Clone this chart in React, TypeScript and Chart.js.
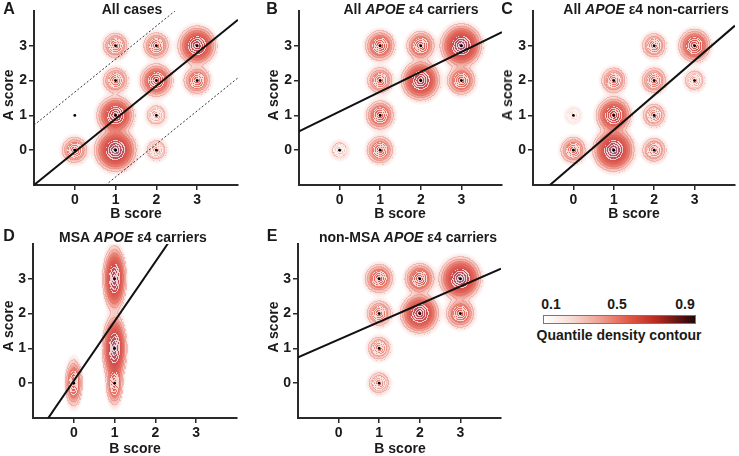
import React, { useEffect, useRef } from "react";
import { Chart, registerables } from "chart.js";
Chart.register(...registerables);

const FONT = "'Liberation Sans', Arial, Helvetica, sans-serif";

const AXIS_MIN = -1;
const AXIS_MAX = 4;
const TICK_VALUES = [0, 1, 2, 3];

// Panel A: All cases
const A_BSCORE = [0, 0, 1, 1, 1, 1, 2, 2, 2, 2, 3, 3];
const A_ASCORE = [0, 1, 0, 1, 2, 3, 0, 1, 2, 3, 2, 3];
const A_DENSITY = [0.22, 0.005, 1.0, 0.7, 0.2, 0.2, 0.1, 0.1, 0.45, 0.22, 0.25, 0.75];
const A_FIT = [0.95, -0.05];
const A_BAND = [1.72, -1.67];

// Panel B: All APOE e4 carriers
const B_BSCORE = [0, 1, 1, 1, 1, 2, 2, 3, 3];
const B_ASCORE = [0, 0, 1, 2, 3, 2, 3, 2, 3];
const B_DENSITY = [0.06, 0.25, 0.3, 0.22, 0.35, 0.8, 0.3, 0.3, 1.0];
const B_FIT = [0.57, 1.11];

// Panel C: All APOE e4 non-carriers
const C_BSCORE = [0, 0, 1, 1, 1, 2, 2, 2, 2, 3, 3];
const C_ASCORE = [0, 1, 0, 1, 2, 0, 1, 2, 3, 2, 3];
const C_DENSITY = [0.22, 0.04, 1.0, 0.6, 0.2, 0.17, 0.15, 0.2, 0.18, 0.1, 0.45];
const C_FIT = [1.0, -0.42];

// Panel D: MSA APOE e4 carriers
const D_BSCORE = [0, 1, 1, 1];
const D_ASCORE = [0, 0, 1, 3];
const D_DENSITY = [0.33, 0.3, 1.0, 0.9];
const D_FIT = [1.71, 0.07];

// Panel E: non-MSA APOE e4 carriers
const E_BSCORE = [1, 1, 1, 1, 2, 2, 3, 3];
const E_ASCORE = [0, 1, 2, 3, 2, 3, 2, 3];
const E_DENSITY = [0.12, 0.15, 0.2, 0.3, 0.8, 0.35, 0.3, 1.0];
const E_FIT = [0.51, 1.25];

// kernel bandwidths (B units, A units)
const BW_STD = [0.19, 0.23];
const BW_D = [0.11, 0.36];

type PanelCfg = {
  left: number; top: number; width: number; height: number;
  padTop: number; padRight: number; yW: number; xH: number;
  b: number[]; a: number[]; d: number[]; fit: number[]; band?: number[]; bw: number[];
};

const PANELS: PanelCfg[] = [
  { left: 0, top: 0, width: 244, height: 222, padTop: 11, padRight: 6, yW: 34, xH: 37, b: A_BSCORE, a: A_ASCORE, d: A_DENSITY, fit: A_FIT, band: A_BAND, bw: BW_STD },
  { left: 265, top: 0, width: 243, height: 222, padTop: 11, padRight: 6, yW: 34, xH: 37, b: B_BSCORE, a: B_ASCORE, d: B_DENSITY, fit: B_FIT, bw: BW_STD },
  { left: 499, top: 0, width: 240, height: 222, padTop: 11, padRight: 3, yW: 34, xH: 37, b: C_BSCORE, a: C_ASCORE, d: C_DENSITY, fit: C_FIT, bw: BW_STD },
  { left: 0, top: 222, width: 243, height: 232, padTop: 22, padRight: 6, yW: 33, xH: 36, b: D_BSCORE, a: D_ASCORE, d: D_DENSITY, fit: D_FIT, bw: BW_D },
  { left: 264, top: 222, width: 243, height: 232, padTop: 22, padRight: 6, yW: 34, xH: 36, b: E_BSCORE, a: E_ASCORE, d: E_DENSITY, fit: E_FIT, bw: BW_STD },
];

const FILL_STOPS: [number, number[]][] = [
  [0, [248, 212, 206]],
  [0.04, [242, 172, 160]],
  [0.1, [234, 130, 116]],
  [0.25, [224, 94, 82]],
  [0.5, [206, 70, 70]],
  [0.8, [172, 76, 92]],
  [1, [150, 102, 126]],
];

function cmap(t: number): number[] {
  if (t <= FILL_STOPS[0][0]) return FILL_STOPS[0][1];
  for (let k = 1; k < FILL_STOPS.length; k++) {
    const [t1, c1] = FILL_STOPS[k];
    const [t0, c0] = FILL_STOPS[k - 1];
    if (t <= t1) {
      const f = (t - t0) / (t1 - t0);
      return [c0[0] + (c1[0] - c0[0]) * f, c0[1] + (c1[1] - c0[1]) * f, c0[2] + (c1[2] - c0[2]) * f];
    }
  }
  return FILL_STOPS[FILL_STOPS.length - 1][1];
}

const UMAX = 2.9; // outermost contour (global field)
const UFILL = 3.3; // fill fade edge
const DELTA = 0.3; // outer contour spacing
const VW = 1.25; // local radius for white contours
const DV = 0.3; // inner contour spacing

function makeDensityPlugin(pts: { x: number; y: number; d: number }[], bw: number[]) {
  return {
    id: "density",
    beforeDatasetsDraw(chart: any) {
      const { ctx, chartArea: ca, scales } = chart;
      const xs = scales.x, ys = scales.y;
      const L = Math.round(ca.left), T = Math.round(ca.top);
      const W = Math.round(ca.right) - L, H = Math.round(ca.bottom) - T;
      const ux = Math.abs(xs.getPixelForValue(1) - xs.getPixelForValue(0));
      const uy = Math.abs(ys.getPixelForValue(1) - ys.getPixelForValue(0));
      const blobs = pts.map((p) => {
        const g = 0.55 + 0.45 * Math.sqrt(p.d);
        return {
          cx: xs.getPixelForValue(p.x) - L,
          cy: ys.getPixelForValue(p.y) - T,
          w: p.d,
          sx: bw[0] * ux * g,
          sy: bw[1] * uy * g,
        };
      });
      const N = W * H;
      const F = new Float32Array(N);
      const V = new Float32Array(N);
      let fmax = 0;
      for (let j = 0; j < H; j++) {
        const py = j + 0.5;
        for (let i = 0; i < W; i++) {
          const px = i + 0.5;
          let s = 0, best = 0, bq = 99;
          for (const b of blobs) {
            const dx = (px - b.cx) / b.sx, dy = (py - b.cy) / b.sy;
            const q = dx * dx + dy * dy;
            if (q < 40) {
              const c = b.w * Math.exp(-0.5 * q);
              s += c;
              if (c > best) { best = c; bq = q; }
            }
          }
          F[j * W + i] = s;
          V[j * W + i] = Math.sqrt(bq);
          if (s > fmax) fmax = s;
        }
      }
      const U = new Float32Array(N);
      for (let k = 0; k < N; k++) {
        const fn = F[k] / fmax;
        U[k] = fn > 1e-9 ? Math.sqrt(-2 * Math.log(Math.min(1, fn))) : 99;
      }
      const img = new ImageData(W, H);
      const dat = img.data;
      for (let j = 0; j < H; j++) {
        for (let i = 0; i < W; i++) {
          const k = j * W + i;
          const u = U[k];
          if (u >= UFILL) continue;
          const fn = F[k] / fmax;
          let a = Math.max(0, Math.min(1, (UFILL - u) / 1.3));
          a = Math.pow(a, 0.8) * 0.97;
          const fc = cmap(fn);
          let r = 255 * (1 - a) + fc[0] * a;
          let g = 255 * (1 - a) + fc[1] * a;
          let bl = 255 * (1 - a) + fc[2] * a;
          const v = V[k];
          if (v < VW && u < UMAX) {
            const rk = Math.floor(v / DV);
            const rR = i + 1 < W ? Math.floor(V[k + 1] / DV) : rk;
            const rD = j + 1 < H ? Math.floor(V[k + W] / DV) : rk;
            if (rk !== rR || rk !== rD) {
              const m = 0.72;
              r = r * (1 - m) + 255 * m; g = g * (1 - m) + 255 * m; bl = bl * (1 - m) + 255 * m;
            }
          } else if (u < UMAX) {
            const rk = Math.floor(u / DELTA);
            const rR = i + 1 < W ? Math.floor(U[k + 1] / DELTA) : rk;
            const rD = j + 1 < H ? Math.floor(U[k + W] / DELTA) : rk;
            if (rk !== rR || rk !== rD) {
              const m = 0.28;
              r = r * (1 - m) + 215 * m; g = g * (1 - m) + 85 * m; bl = bl * (1 - m) + 80 * m;
            }
          }
          dat[k * 4] = r; dat[k * 4 + 1] = g; dat[k * 4 + 2] = bl; dat[k * 4 + 3] = 255;
        }
      }
      const off = document.createElement("canvas");
      off.width = W; off.height = H;
      off.getContext("2d")!.putImageData(img, 0, 0);
      ctx.save();
      ctx.drawImage(off, L, T);
      ctx.restore();
    },
  };
}

function Panel({ p }: { p: PanelCfg }) {
  const ref = useRef<HTMLCanvasElement>(null);
  useEffect(() => {
    const pts = p.b.map((bv, i) => ({ x: bv, y: p.a[i], d: p.d[i] }));
    const fitLine = (m: number, c: number) => [
      { x: AXIS_MIN, y: m * AXIS_MIN + c },
      { x: AXIS_MAX, y: m * AXIS_MAX + c },
    ];
    const datasets: any[] = [];
    if (p.band) {
      p.band.forEach((off) =>
        datasets.push({ type: "line", data: fitLine(p.fit[0], p.fit[1] + off), borderColor: "#333", borderWidth: 1, borderDash: [2, 2], pointRadius: 0 })
      );
    }
    datasets.push({ type: "line", data: fitLine(p.fit[0], p.fit[1]), borderColor: "#111", borderWidth: 2, pointRadius: 0 });
    datasets.push({ type: "scatter", data: pts, pointRadius: 1.4, pointBackgroundColor: "#000", pointBorderWidth: 0 });
    const tickFont = { family: FONT, size: 14, weight: "bold" as const };
    const axisCommon = {
      type: "linear" as const,
      min: AXIS_MIN,
      max: AXIS_MAX,
      afterBuildTicks: (s: any) => { s.ticks = TICK_VALUES.map((v) => ({ value: v })); },
      grid: { drawOnChartArea: false, drawTicks: true, tickLength: 5, color: "#2a2a2a", lineWidth: 1.5 },
      border: { display: true, color: "#2a2a2a", width: 2 },
      ticks: { font: tickFont, color: "#1a1a1a", padding: 2, maxRotation: 0, autoSkip: false },
    };
    const chart = new Chart(ref.current!, {
      type: "scatter",
      data: { datasets },
      options: {
        animation: false,
        responsive: false,
        events: [],
        layout: { padding: { top: p.padTop, right: p.padRight, left: 0, bottom: 0 } },
        scales: {
          x: { ...axisCommon, position: "bottom", afterFit: (s: any) => { s.height = p.xH; } },
          y: { ...axisCommon, position: "left", afterFit: (s: any) => { s.width = p.yW; } },
        },
        plugins: { legend: { display: false }, tooltip: { enabled: false } },
      },
      plugins: [makeDensityPlugin(pts, p.bw)],
    } as any);
    return () => chart.destroy();
  }, []);
  return (
    <canvas
      ref={ref}
      width={p.width}
      height={p.height}
      style={{ position: "absolute", left: p.left, top: p.top, width: p.width, height: p.height }}
    />
  );
}

function Txt({ x, y, size = 14, rotate = false, children }: { x: number; y: number; size?: number; rotate?: boolean; children: React.ReactNode }) {
  return (
    <div
      style={{
        position: "absolute",
        left: x,
        top: y,
        transform: `translate(-50%, -50%)${rotate ? " rotate(-90deg)" : ""}`,
        fontFamily: FONT,
        fontWeight: "bold",
        fontSize: size,
        color: "#1a1a1a",
        whiteSpace: "nowrap",
        lineHeight: 1,
      }}
    >
      {children}
    </div>
  );
}

const APOE = <i>APOE</i>;

export default function App() {
  return (
    <div style={{ position: "absolute", left: 0, top: 0, width: 739, height: 456, background: "#fff", overflow: "hidden" }}>
      {PANELS.map((p, i) => (
        <Panel key={i} p={p} />
      ))}
      <Txt x={9} y={9} size={16}>A</Txt>
      <Txt x={272} y={9} size={16}>B</Txt>
      <Txt x={507} y={9} size={16}>C</Txt>
      <Txt x={9} y={236} size={16}>D</Txt>
      <Txt x={272} y={236} size={16}>E</Txt>

      <Txt x={132} y={9}>All cases</Txt>
      <Txt x={411} y={9}>All {APOE} ε4 carriers</Txt>
      <Txt x={646} y={9}>All {APOE} ε4 non-carriers</Txt>
      <Txt x={133} y={237}>MSA {APOE} ε4 carriers</Txt>
      <Txt x={408} y={237}>non-MSA {APOE} ε4 carriers</Txt>

      <Txt x={8} y={95} rotate>A score</Txt>
      <Txt x={273} y={95} rotate>A score</Txt>
      <Txt x={507} y={95} rotate>A score</Txt>
      <Txt x={8} y={326} rotate>A score</Txt>
      <Txt x={273} y={327} rotate>A score</Txt>

      <Txt x={136} y={213}>B score</Txt>
      <Txt x={400} y={213}>B score</Txt>
      <Txt x={634} y={213}>B score</Txt>
      <Txt x={135} y={448}>B score</Txt>
      <Txt x={400} y={448}>B score</Txt>

      <Txt x={551} y={304}>0.1</Txt>
      <Txt x={617} y={304}>0.5</Txt>
      <Txt x={685} y={304}>0.9</Txt>
      <div
        style={{
          position: "absolute",
          left: 543,
          top: 315,
          width: 151,
          height: 7,
          border: "1px solid #777",
          background: "linear-gradient(to right, #ffffff 0%, #f7dcd6 18%, #ee9d8e 38%, #de5340 58%, #b52a20 75%, #5a1412 90%, #220808 100%)",
        }}
      />
      <Txt x={619} y={335}>Quantile density contour</Txt>
    </div>
  );
}
